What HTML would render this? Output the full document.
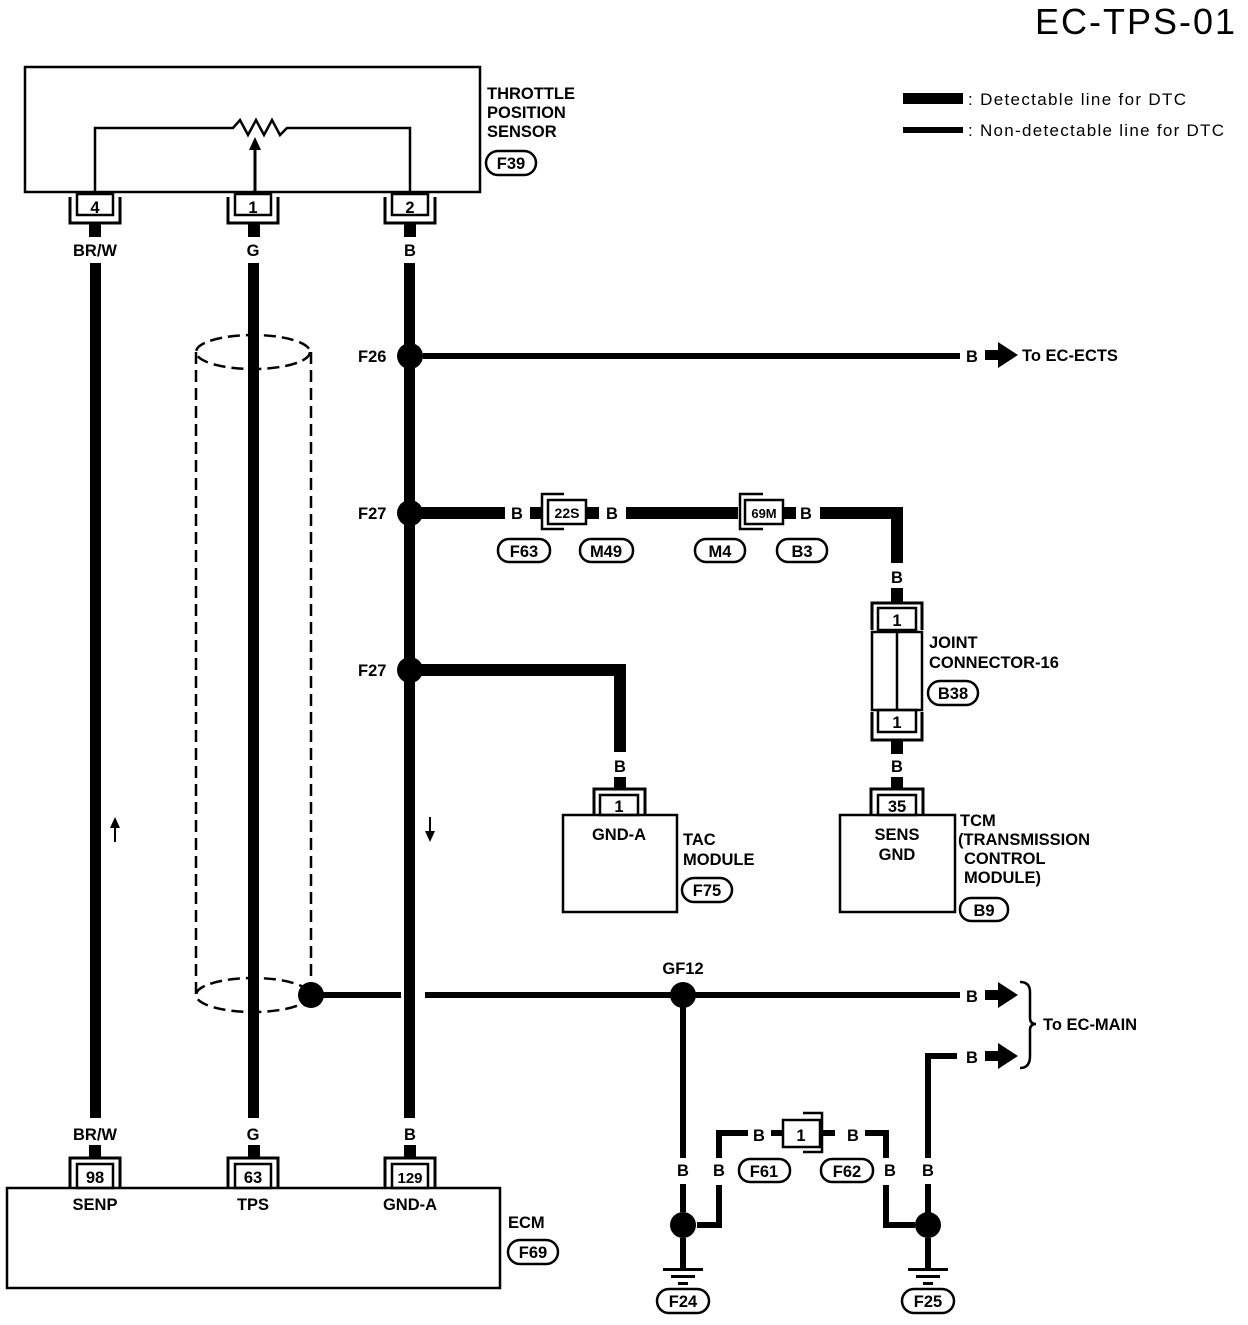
<!DOCTYPE html>
<html><head><meta charset="utf-8"><style>
html,body{margin:0;padding:0;background:#fff}
svg text{font-family:"Liberation Sans",Arial,sans-serif;fill:#000;font-weight:bold}
svg text.n{font-weight:normal}
.m{text-anchor:middle}
</style></head><body>
<svg width="1248" height="1320" viewBox="0 0 1248 1320" xmlns="http://www.w3.org/2000/svg">
<g font-size="16.5">
<text x="1035" y="34" font-size="36" class="n" textLength="200">EC-TPS-01</text>
<!-- legend -->
<rect x="903" y="93" width="60" height="11"/>
<text x="968" y="105" class="n" font-size="17" textLength="218">: Detectable line for DTC</text>
<rect x="903" y="127" width="60" height="6"/>
<text x="968" y="136" class="n" font-size="17" textLength="256">: Non-detectable line for DTC</text>

<!-- sensor box -->
<rect x="25" y="67" width="455" height="125" fill="none" stroke="#000" stroke-width="2.5"/>
<text x="487" y="99">THROTTLE</text><text x="487" y="118">POSITION</text><text x="487" y="137">SENSOR</text>
<rect x="486" y="151" width="50" height="24" rx="12" fill="none" stroke="#000" stroke-width="2.5"/><text x="511" y="169" class="m">F39</text>
<path d="M95 192 V128 H233 L240 120 L248 135 L256 120 L264 135 L272 120 L280 135 L287 128 H410 V192" fill="none" stroke="#000" stroke-width="2.5"/>
<path d="M255 192 V148" stroke="#000" stroke-width="3"/><path d="M249 150 L255 137 L261 150Z"/>
<!-- sensor connectors -->
<g fill="none" stroke="#000">
<path d="M70 197 V223 H120 V197" stroke-width="3"/><rect x="77" y="194" width="36" height="21" stroke-width="2.5"/>
<path d="M228 197 V223 H278 V197" stroke-width="3"/><rect x="235" y="194" width="36" height="21" stroke-width="2.5"/>
<path d="M385 197 V223 H435 V197" stroke-width="3"/><rect x="392" y="194" width="36" height="21" stroke-width="2.5"/>
</g>
<text x="95" y="213" class="m">4</text><text x="253" y="213" class="m">1</text><text x="410" y="213" class="m">2</text>
<rect x="89" y="223" width="12" height="14"/><rect x="248" y="223" width="12" height="14"/><rect x="404" y="223" width="12" height="14"/>
<text x="95" y="256" class="m">BR/W</text><text x="253" y="256" class="m">G</text><text x="410" y="256" class="m">B</text>

<!-- main vertical wires -->
<rect x="90" y="263" width="11" height="855"/>
<rect x="248" y="263" width="11" height="855"/>
<rect x="404" y="263" width="11" height="855"/>

<!-- shield -->
<g fill="none" stroke="#000" stroke-width="2.5" stroke-dasharray="12 6">
<ellipse cx="253" cy="352" rx="57" ry="17"/>
<ellipse cx="253" cy="995" rx="57" ry="17"/>
<path d="M196 352 V995 M311 352 V995"/>
</g>
<rect x="248" y="330" width="11" height="700"/>
<circle cx="311" cy="995" r="13"/>
<rect x="323" y="992" width="78" height="6"/>
<rect x="425" y="992" width="535" height="6"/>
<circle cx="683" cy="995" r="13"/>
<text x="683" y="974" class="m">GF12</text>
<text x="972" y="1002" class="m">B</text><path d="M985 990 H998 V982 L1018 995 L998 1008 V1000 H985Z"/>
<path d="M1020 982 Q1030 982 1030 992 V1018 Q1030 1024 1036 1024 Q1030 1024 1030 1030 V1056 Q1030 1068 1020 1068" fill="none" stroke="#000" stroke-width="2.5"/>
<text x="1043" y="1030">To EC-MAIN</text>
<text x="972" y="1063" class="m">B</text><path d="M985 1051 H998 V1043 L1018 1056 L998 1069 V1061 H985Z"/>
<path d="M928 1158 V1056 H957" fill="none" stroke="#000" stroke-width="6"/>

<!-- F26 -->
<circle cx="410" cy="356" r="13"/><text x="358" y="362">F26</text>
<rect x="423" y="353" width="537" height="6"/>
<text x="972" y="362" class="m">B</text><path d="M985 350 H998 V342 L1018 355 L998 368 V360 H985Z"/>
<text x="1022" y="361">To EC-ECTS</text>

<!-- F27 upper -->
<circle cx="410" cy="513" r="13"/><text x="358" y="519">F27</text>
<rect x="420" y="507" width="85" height="12"/>
<text x="517" y="519" class="m">B</text>
<rect x="530" y="507" width="12" height="12"/>
<path d="M564 494 H542 V529 H564" fill="none" stroke="#000" stroke-width="2.5"/>
<rect x="548" y="500" width="38" height="24" fill="none" stroke="#000" stroke-width="2.5"/>
<text x="567" y="518" font-size="14" class="m">22S</text>
<rect x="587" y="507" width="12" height="12"/>
<text x="612" y="519" class="m">B</text>
<rect x="626" y="507" width="112" height="12"/>
<path d="M763 494 H740 V529 H763" fill="none" stroke="#000" stroke-width="2.5"/>
<rect x="745" y="500" width="38" height="24" fill="none" stroke="#000" stroke-width="2.5"/>
<text x="764" y="518" font-size="13" class="m">69M</text>
<rect x="784" y="507" width="12" height="12"/>
<text x="806" y="519" class="m">B</text>
<path d="M820 513 H897 V563" fill="none" stroke="#000" stroke-width="12"/>
<text x="897" y="583" class="m">B</text>
<rect x="891" y="588" width="12" height="16"/>
<g fill="none" stroke="#000" stroke-width="2.5">
<rect x="498" y="539" width="52" height="23" rx="11"/><rect x="580" y="539" width="53" height="23" rx="11"/>
<rect x="695" y="539" width="50" height="23" rx="11"/><rect x="777" y="539" width="50" height="23" rx="11"/>
</g>
<text x="524" y="557" class="m">F63</text><text x="606" y="557" class="m">M49</text><text x="720" y="557" class="m">M4</text><text x="802" y="557" class="m">B3</text>

<!-- joint connector -->
<g fill="none" stroke="#000">
<path d="M872 630 V603 H922 V630" stroke-width="3"/>
<rect x="878" y="608" width="38" height="22" stroke-width="2.5"/>
<rect x="872" y="632" width="50" height="78" stroke-width="2.5"/>
<path d="M897 632 V710" stroke-width="2.5"/>
<rect x="878" y="710" width="38" height="22" stroke-width="2.5"/>
<path d="M872 712 V740 H922 V712" stroke-width="3"/>
</g>
<text x="897" y="626" class="m">1</text><text x="897" y="728" class="m">1</text>
<text x="929" y="648">JOINT</text><text x="929" y="668">CONNECTOR-16</text>
<rect x="928" y="681" width="50" height="24" rx="12" fill="none" stroke="#000" stroke-width="2.5"/><text x="953" y="699" class="m">B38</text>
<rect x="891" y="740" width="12" height="14"/>
<text x="897" y="772" class="m">B</text>
<rect x="891" y="777" width="12" height="12"/>
<g fill="none" stroke="#000">
<path d="M871 815 V789 H923 V815" stroke-width="3"/><rect x="878" y="795" width="38" height="20" stroke-width="2.5"/>
<rect x="840" y="815" width="115" height="97" stroke-width="2.5"/>
</g>
<text x="897" y="812" class="m">35</text>
<text x="897" y="840" class="m">SENS</text><text x="897" y="860" class="m">GND</text>
<text x="960" y="826">TCM</text><text x="958" y="845">(TRANSMISSION</text><text x="964" y="864">CONTROL</text><text x="964" y="883">MODULE)</text>
<rect x="960" y="898" width="48" height="23" rx="11" fill="none" stroke="#000" stroke-width="2.5"/><text x="984" y="916" class="m">B9</text>

<!-- F27 lower -->
<circle cx="410" cy="670" r="13"/><text x="358" y="676">F27</text>
<path d="M420 670 H620 V752" fill="none" stroke="#000" stroke-width="12"/>
<text x="620" y="772" class="m">B</text>
<rect x="614" y="777" width="12" height="12"/>
<g fill="none" stroke="#000">
<path d="M594 815 V789 H645 V815" stroke-width="3"/><rect x="600" y="795" width="38" height="20" stroke-width="2.5"/>
<rect x="563" y="815" width="114" height="97" stroke-width="2.5"/>
</g>
<text x="619" y="812" class="m">1</text>
<text x="619" y="840" class="m">GND-A</text>
<text x="683" y="845">TAC</text><text x="683" y="865">MODULE</text>
<rect x="682" y="878" width="50" height="24" rx="12" fill="none" stroke="#000" stroke-width="2.5"/><text x="707" y="896" class="m">F75</text>

<!-- small arrows -->
<path d="M115 842 V825" stroke="#000" stroke-width="2"/><path d="M110 828 L115 817 L120 828Z"/>
<path d="M430 817 V834" stroke="#000" stroke-width="2"/><path d="M425 831 L430 842 L435 831Z"/>

<!-- ECM -->
<text x="95" y="1140" class="m">BR/W</text><text x="253" y="1140" class="m">G</text><text x="410" y="1140" class="m">B</text>
<rect x="89" y="1145" width="12" height="13"/><rect x="248" y="1145" width="12" height="13"/><rect x="404" y="1145" width="12" height="13"/>
<g fill="none" stroke="#000">
<path d="M70 1188 V1158 H120 V1188" stroke-width="3"/><rect x="77" y="1164" width="36" height="24" stroke-width="2.5"/>
<path d="M228 1188 V1158 H278 V1188" stroke-width="3"/><rect x="235" y="1164" width="36" height="24" stroke-width="2.5"/>
<path d="M385 1188 V1158 H435 V1188" stroke-width="3"/><rect x="392" y="1164" width="36" height="24" stroke-width="2.5"/>
<rect x="7" y="1188" width="493" height="100" stroke-width="2.5"/>
</g>
<text x="95" y="1183" class="m">98</text><text x="253" y="1183" class="m">63</text><text x="410" y="1183" class="m" font-size="15">129</text>
<text x="95" y="1210" class="m">SENP</text><text x="253" y="1210" class="m">TPS</text><text x="410" y="1210" class="m">GND-A</text>
<text x="508" y="1228">ECM</text>
<rect x="508" y="1240" width="50" height="24" rx="12" fill="none" stroke="#000" stroke-width="2.5"/><text x="533" y="1258" class="m">F69</text>

<!-- ground section -->
<rect x="680" y="1005" width="6" height="153"/>
<text x="683" y="1176" class="m">B</text>
<rect x="680" y="1184" width="6" height="28"/>
<circle cx="683" cy="1225" r="13"/>
<rect x="680" y="1238" width="6" height="30"/>
<rect x="663" y="1268" width="40" height="3"/><rect x="671" y="1275" width="24" height="3"/><rect x="678" y="1282" width="10" height="3"/>
<rect x="657" y="1289" width="52" height="24" rx="12" fill="none" stroke="#000" stroke-width="2.5"/><text x="683" y="1307" class="m">F24</text>

<path d="M697 1225 H719 V1185" fill="none" stroke="#000" stroke-width="6"/>
<text x="719" y="1176" class="m">B</text>
<path d="M719 1158 V1133 H748" fill="none" stroke="#000" stroke-width="6"/>
<text x="759" y="1141" class="m">B</text>
<rect x="771" y="1130" width="12" height="6"/>
<rect x="783" y="1120" width="37" height="27" fill="none" stroke="#000" stroke-width="2.5"/>
<path d="M803 1113 H822 V1152 H803" fill="none" stroke="#000" stroke-width="2.5"/>
<text x="801" y="1141" class="m">1</text>
<rect x="823" y="1130" width="12" height="6"/>
<text x="853" y="1141" class="m">B</text>
<path d="M865 1133 H886 V1158" fill="none" stroke="#000" stroke-width="6"/>
<text x="890" y="1176" class="m">B</text>
<path d="M886 1185 V1225 H915" fill="none" stroke="#000" stroke-width="6"/>
<text x="928" y="1176" class="m">B</text>
<circle cx="928" cy="1225" r="13"/>
<rect x="925" y="1238" width="6" height="30"/>
<rect x="908" y="1268" width="40" height="3"/><rect x="916" y="1275" width="24" height="3"/><rect x="923" y="1282" width="10" height="3"/>
<rect x="902" y="1289" width="52" height="24" rx="12" fill="none" stroke="#000" stroke-width="2.5"/><text x="928" y="1307" class="m">F25</text>
<rect x="925" y="1184" width="6" height="30"/>
<rect x="739" y="1159" width="51" height="23" rx="11" fill="none" stroke="#000" stroke-width="2.5"/><text x="764" y="1177" class="m">F61</text>
<rect x="821" y="1159" width="52" height="23" rx="11" fill="none" stroke="#000" stroke-width="2.5"/><text x="847" y="1177" class="m">F62</text>
</g>
</svg>
</body></html>
